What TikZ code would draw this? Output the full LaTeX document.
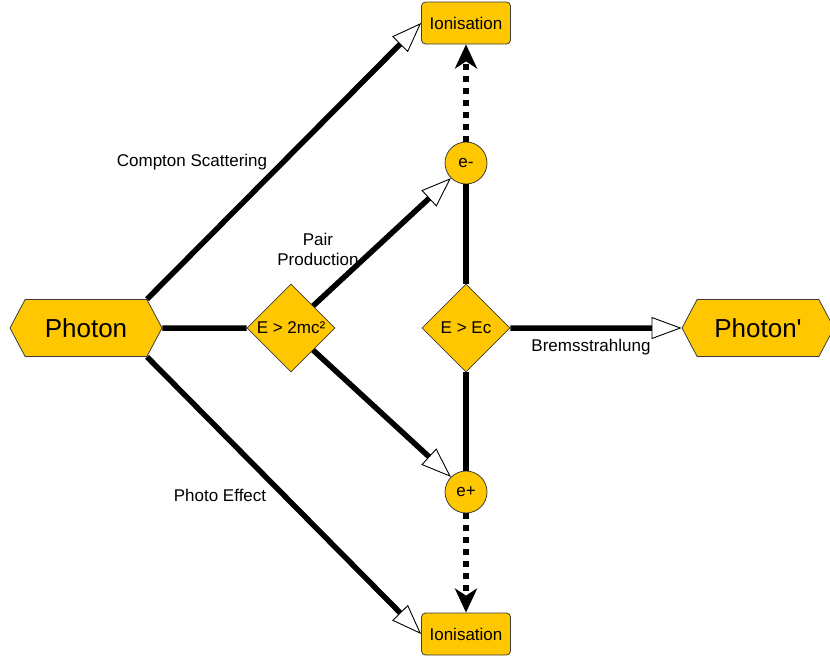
\documentclass[tikz,border=0pt]{standalone}
\usepackage{fontspec}
\setmainfont{Liberation Sans}
\usetikzlibrary{arrows.meta}
\usetikzlibrary{shapes.geometric}
\usetikzlibrary{shapes.symbols}

\definecolor{gold}{RGB}{255,199,0}
\definecolor{rim}{RGB}{60,60,60}

\tikzset{
  box/.style={draw=rim,line width=0.8pt,fill=gold,font=\fontsize{17}{19}\selectfont},
  hexa/.style={box,shape=signal,signal to=east and west,signal pointer angle=124,
    minimum width=152pt,minimum height=57pt,inner sep=0pt,font=\fontsize{26}{28}\selectfont},
  decide/.style={box,diamond,minimum width=88pt,minimum height=88pt,inner sep=0pt},
  ball/.style={box,circle,minimum size=42pt,inner sep=0pt},
  ionbox/.style={box,rounded corners=4pt,minimum width=89pt,minimum height=42pt,inner sep=0pt},
  lab/.style={font=\fontsize{17}{20}\selectfont,inner sep=1pt},
  conn/.style={line width=5.5pt},
  openhead/.style={conn,-{Triangle[fill=white,length=30pt,width=22pt,line width=0.9pt]}},
  dotted path/.style={conn,dash pattern=on 6pt off 6pt,-{Stealth[length=24pt,width=22pt,inset=7pt]}}
}

\begin{document}
\begin{tikzpicture}[x=1pt,y=-1pt,line join=miter]
\useasboundingbox (0,0) rectangle (830,659);
%nodes
\node[hexa] (photon) at (86,328) {Photon};
\node[hexa] (photonb) at (758,328) {Photon\textquotesingle};
\node[decide] (pair) at (291,328) {E > 2mc²};
\node[decide] (brems) at (466,328) {E > Ec};
\node[ball] (eminus) at (466,163) {e-};
\node[ball] (eplus) at (466,492) {e+};
\node[ionbox] (ionup) at (466,23) {Ionisation};
\node[ionbox] (iondown) at (466,634) {Ionisation};
%labels
\node[lab] (comptonlab) at (192,162) {Compton Scattering};
\node[lab,align=center] (pairlab) at (318,249) {Pair\\Production};
\node[lab] (photolab) at (220,495) {Photo Effect};
\node[lab] (bremslab) at (591,347) {Bremsstrahlung};
%connectors
\draw[openhead] (photon.north east) -- (ionup.west);
\draw[openhead] (photon.south east) -- (iondown.west);
\draw[conn] (photon) -- (pair);
\draw[openhead] (pair.north east) -- (eminus.south west);
\draw[openhead] (pair.south east) -- (eplus.north west);
\draw[conn] (eminus) -- (brems);
\draw[conn] (brems) -- (eplus);
\draw[openhead] (brems) -- (photonb);
\draw[dotted path] (eminus) -- (ionup);
\draw[dotted path] (eplus) -- (iondown);
\end{tikzpicture}
\end{document}
